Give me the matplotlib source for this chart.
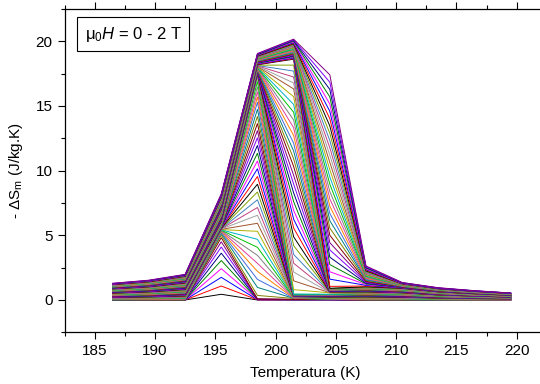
import matplotlib
matplotlib.use("Agg")
import matplotlib.pyplot as plt
from matplotlib.ticker import MultipleLocator

plt.rcParams['font.family'] = ['Liberation Sans', 'DejaVu Sans']
plt.rcParams['mathtext.fontset'] = 'custom'
plt.rcParams['mathtext.rm'] = 'Liberation Sans'
plt.rcParams['mathtext.it'] = 'Liberation Sans:italic'

# Temperatures (K) of the -dS points
temps = [186.5, 189.5, 192.5, 195.5, 198.5, 201.5, 204.5, 207.5, 210.5, 213.5, 216.5, 219.5]

Z10 = [0.00, 0.00, 0.00, 0.00, 0.00, 0.00, 0.00, 0.00, 0.00, 0.00]

# -dS (J/kg.K) at each temperature, one value per field curve (0 -> 2 T)
ds_186 = Z10 + [
    0.01, 0.03, 0.04, 0.06, 0.07, 0.09, 0.10, 0.11, 0.13, 0.14,
    0.16, 0.17, 0.19, 0.20, 0.22, 0.23, 0.24, 0.26, 0.27, 0.29,
    0.30, 0.32, 0.33, 0.34, 0.36, 0.37, 0.39, 0.40, 0.42, 0.43,
    0.44, 0.46, 0.47, 0.49, 0.50, 0.52, 0.53, 0.54, 0.56, 0.57,
    0.59, 0.60, 0.62, 0.63, 0.65, 0.66, 0.67, 0.69, 0.70, 0.72,
    0.73, 0.75, 0.76, 0.77, 0.79, 0.80, 0.82, 0.83, 0.85, 0.86,
    0.87, 0.89, 0.90, 0.92, 0.93, 0.95, 0.96, 0.97, 0.99, 1.00,
    1.02, 1.03, 1.05, 1.06, 1.08, 1.09, 1.10, 1.12, 1.13, 1.15,
    1.16, 1.18, 1.19, 1.20, 1.22, 1.23, 1.25, 1.26, 1.28, 1.29]

ds_189 = Z10 + [
    0.02, 0.03, 0.05, 0.07, 0.09, 0.10, 0.12, 0.14, 0.15, 0.17,
    0.19, 0.20, 0.22, 0.24, 0.26, 0.27, 0.29, 0.31, 0.32, 0.34,
    0.36, 0.37, 0.39, 0.41, 0.43, 0.44, 0.46, 0.48, 0.49, 0.51,
    0.53, 0.54, 0.56, 0.58, 0.60, 0.61, 0.63, 0.65, 0.66, 0.68,
    0.70, 0.71, 0.73, 0.75, 0.77, 0.78, 0.80, 0.82, 0.83, 0.85,
    0.87, 0.88, 0.90, 0.92, 0.94, 0.95, 0.97, 0.99, 1.00, 1.02,
    1.04, 1.05, 1.07, 1.09, 1.11, 1.12, 1.14, 1.16, 1.17, 1.19,
    1.21, 1.22, 1.24, 1.26, 1.28, 1.29, 1.31, 1.33, 1.34, 1.36,
    1.38, 1.39, 1.41, 1.43, 1.45, 1.46, 1.48, 1.50, 1.51, 1.53]

ds_192 = Z10 + [
    0.02, 0.04, 0.07, 0.09, 0.11, 0.13, 0.15, 0.18, 0.20, 0.22,
    0.24, 0.26, 0.29, 0.31, 0.33, 0.35, 0.37, 0.40, 0.42, 0.44,
    0.46, 0.48, 0.51, 0.53, 0.55, 0.57, 0.59, 0.62, 0.64, 0.66,
    0.68, 0.70, 0.73, 0.75, 0.77, 0.79, 0.81, 0.84, 0.86, 0.88,
    0.90, 0.92, 0.95, 0.97, 0.99, 1.01, 1.03, 1.06, 1.08, 1.10,
    1.12, 1.14, 1.17, 1.19, 1.21, 1.23, 1.25, 1.28, 1.30, 1.32,
    1.34, 1.36, 1.39, 1.41, 1.43, 1.45, 1.47, 1.50, 1.52, 1.54,
    1.56, 1.58, 1.61, 1.63, 1.65, 1.67, 1.69, 1.72, 1.74, 1.76,
    1.78, 1.80, 1.83, 1.85, 1.87, 1.89, 1.91, 1.94, 1.96, 1.98]

ds_195 = [
    0.44, 1.08, 1.75, 2.42, 3.05, 3.62, 4.10, 4.50, 4.82,
    5.02, 5.15, 5.24, 5.30, 5.34, 5.37, 5.40, 5.42, 5.44, 5.46,
    5.48, 5.50, 5.51, 5.53, 5.54, 5.56, 5.57, 5.59, 5.60, 5.62,
    5.63, 5.65, 5.66, 5.68, 5.69, 5.71, 5.72, 5.74, 5.75, 5.77, 5.78,
    5.85, 5.89, 5.93, 5.97, 6.01, 6.05, 6.09, 6.13, 6.17, 6.21,
    6.25, 6.29, 6.33, 6.37, 6.41, 6.45, 6.49, 6.53, 6.57, 6.61,
    6.65, 6.69, 6.73, 6.77, 6.81, 6.85, 6.89, 6.93, 6.97, 7.01,
    7.05, 7.09, 7.13, 7.17, 7.21, 7.25, 7.29, 7.33, 7.37, 7.41,
    7.45, 7.49, 7.53, 7.57, 7.61, 7.65, 7.69, 7.73, 7.77, 7.81,
    7.85, 7.89, 7.93, 7.97, 8.01, 8.05, 8.09, 8.13, 8.17, 8.21]

ds_198 = [
    0.00, 0.01, 0.02, 0.03, 0.04, 0.05, 0.06, 0.07, 0.08,
    0.35, 0.97, 1.59, 2.21, 2.83, 3.45, 4.07, 4.69, 5.31, 5.93,
    6.55, 7.15, 7.75, 8.35, 8.95, 9.55, 10.15, 10.75, 11.35, 11.95,
    12.55, 13.10, 13.65, 14.20, 14.75, 15.30, 15.70, 16.10, 16.50, 16.90, 17.30,
    17.35, 17.38, 17.41, 17.44, 17.47, 17.50, 17.52, 17.55, 17.58, 17.61,
    17.64, 17.67, 17.70, 17.73, 17.76, 17.79, 17.81, 17.84, 17.87, 17.90,
    17.93, 17.96, 17.99, 18.02, 18.05, 18.08, 18.10, 18.13, 18.16, 18.19,
    18.22, 18.25, 18.28, 18.31, 18.34, 18.37, 18.39, 18.42, 18.45, 18.48,
    18.51, 18.54, 18.57, 18.60, 18.63, 18.66, 18.68, 18.71, 18.74, 18.77,
    18.80, 18.83, 18.86, 18.89, 18.92, 18.95, 18.97, 19.00, 19.03, 19.06]

ds_201 = [
    0.00, 0.01, 0.01, 0.02, 0.02, 0.03, 0.03, 0.04, 0.05,
    0.12, 0.13, 0.14, 0.15, 0.16, 0.18, 0.19, 0.20, 0.21, 0.22,
    0.23, 0.24, 0.25, 0.26, 0.27, 0.29, 0.30, 0.31, 0.32, 0.33,
    0.34, 0.35, 0.36, 0.37, 0.38, 0.40, 0.41, 0.42, 0.43, 0.44, 0.45,
    0.80, 1.48, 2.16, 2.84, 3.52, 4.20, 4.88, 5.56, 6.24, 6.92,
    7.60, 8.28, 8.96, 9.64, 10.32, 10.92, 11.52, 12.12, 12.72, 13.32,
    13.92, 14.52, 15.12, 15.72, 16.32, 16.78, 17.24, 17.70, 18.16, 18.62,
    18.67, 18.72, 18.77, 18.82, 18.87, 18.93, 18.98, 19.03, 19.08, 19.13,
    19.19, 19.24, 19.29, 19.34, 19.39, 19.45, 19.50, 19.55, 19.60, 19.65,
    19.71, 19.76, 19.81, 19.86, 19.91, 19.97, 20.02, 20.07, 20.12, 20.17]

ds_204 = [
    0.00, 0.01, 0.01, 0.02, 0.02, 0.03, 0.03, 0.04, 0.04,
    0.05, 0.06, 0.08, 0.09, 0.10, 0.12, 0.13, 0.14, 0.15, 0.17,
    0.18, 0.19, 0.21, 0.22, 0.23, 0.25, 0.26, 0.27, 0.28, 0.30,
    0.31, 0.32, 0.34, 0.35, 0.36, 0.38, 0.39, 0.40, 0.41, 0.43, 0.44,
    0.55, 0.56, 0.57, 0.59, 0.60, 0.61, 0.62, 0.63, 0.65, 0.66,
    0.67, 0.68, 0.69, 0.71, 0.72, 0.73, 0.74, 0.75, 0.77, 0.78,
    0.79, 0.80, 0.81, 0.83, 0.84, 0.85, 0.86, 0.87, 0.89, 0.90,
    1.05, 1.61, 2.18, 2.74, 3.31, 3.87, 4.43, 5.00, 5.56, 6.13,
    6.69, 7.25, 7.82, 8.38, 8.95, 9.51, 10.07, 10.64, 11.20, 11.77,
    12.33, 12.89, 13.46, 14.02, 14.59, 15.15, 15.71, 16.28, 16.84, 17.41]

ds_207 = Z10 + [
    0.02, 0.03, 0.05, 0.07, 0.09, 0.10, 0.12, 0.14, 0.15, 0.17,
    0.19, 0.20, 0.22, 0.24, 0.26, 0.27, 0.29, 0.31, 0.32, 0.34,
    0.36, 0.37, 0.39, 0.41, 0.43, 0.44, 0.46, 0.48, 0.49, 0.51,
    0.53, 0.54, 0.56, 0.58, 0.60, 0.61, 0.63, 0.65, 0.66, 0.68,
    0.70, 0.71, 0.73, 0.75, 0.77, 0.78, 0.80, 0.82, 0.83, 0.85,
    0.87, 0.88, 0.90, 0.92, 0.94, 0.95, 0.97, 0.99, 1.00, 1.02,
    1.08, 1.13, 1.19, 1.24, 1.29, 1.35, 1.40, 1.45, 1.51, 1.56,
    1.61, 1.67, 1.72, 1.77, 1.83, 1.88, 1.93, 1.99, 2.04, 2.09,
    2.15, 2.20, 2.25, 2.31, 2.36, 2.41, 2.47, 2.52, 2.57, 2.63]

ds_210 = Z10 + [
    0.02, 0.03, 0.05, 0.06, 0.08, 0.09, 0.11, 0.12, 0.14, 0.15,
    0.17, 0.18, 0.20, 0.21, 0.23, 0.24, 0.26, 0.27, 0.29, 0.30,
    0.32, 0.33, 0.35, 0.36, 0.38, 0.39, 0.41, 0.42, 0.44, 0.45,
    0.47, 0.48, 0.50, 0.51, 0.53, 0.54, 0.56, 0.57, 0.59, 0.60,
    0.62, 0.63, 0.65, 0.66, 0.68, 0.69, 0.71, 0.72, 0.74, 0.75,
    0.77, 0.78, 0.80, 0.81, 0.83, 0.84, 0.86, 0.87, 0.89, 0.90,
    0.92, 0.93, 0.95, 0.96, 0.98, 0.99, 1.01, 1.02, 1.04, 1.05,
    1.07, 1.08, 1.10, 1.11, 1.13, 1.14, 1.16, 1.17, 1.19, 1.20,
    1.22, 1.23, 1.25, 1.26, 1.28, 1.29, 1.31, 1.32, 1.34, 1.35]

ds_213 = Z10 + [
    0.01, 0.02, 0.03, 0.04, 0.05, 0.06, 0.07, 0.08, 0.09, 0.11,
    0.12, 0.13, 0.14, 0.15, 0.16, 0.17, 0.18, 0.19, 0.20, 0.21,
    0.22, 0.23, 0.24, 0.25, 0.26, 0.27, 0.28, 0.29, 0.30, 0.32,
    0.33, 0.34, 0.35, 0.36, 0.37, 0.38, 0.39, 0.40, 0.41, 0.42,
    0.43, 0.44, 0.45, 0.46, 0.47, 0.48, 0.49, 0.50, 0.51, 0.53,
    0.54, 0.55, 0.56, 0.57, 0.58, 0.59, 0.60, 0.61, 0.62, 0.63,
    0.64, 0.65, 0.66, 0.67, 0.68, 0.69, 0.70, 0.71, 0.72, 0.74,
    0.75, 0.76, 0.77, 0.78, 0.79, 0.80, 0.81, 0.82, 0.83, 0.84,
    0.85, 0.86, 0.87, 0.88, 0.89, 0.90, 0.91, 0.92, 0.93, 0.95]

ds_216 = Z10 + [
    0.01, 0.02, 0.02, 0.03, 0.04, 0.05, 0.06, 0.06, 0.07, 0.08,
    0.09, 0.10, 0.10, 0.11, 0.12, 0.13, 0.14, 0.14, 0.15, 0.16,
    0.17, 0.18, 0.18, 0.19, 0.20, 0.21, 0.22, 0.22, 0.23, 0.24,
    0.25, 0.26, 0.26, 0.27, 0.28, 0.29, 0.30, 0.30, 0.31, 0.32,
    0.33, 0.34, 0.34, 0.35, 0.36, 0.37, 0.38, 0.38, 0.39, 0.40,
    0.41, 0.42, 0.42, 0.43, 0.44, 0.45, 0.46, 0.46, 0.47, 0.48,
    0.49, 0.50, 0.50, 0.51, 0.52, 0.53, 0.54, 0.54, 0.55, 0.56,
    0.57, 0.58, 0.58, 0.59, 0.60, 0.61, 0.62, 0.62, 0.63, 0.64,
    0.65, 0.66, 0.66, 0.67, 0.68, 0.69, 0.70, 0.70, 0.71, 0.72]

ds_219 = Z10 + [
    0.01, 0.01, 0.02, 0.02, 0.03, 0.04, 0.04, 0.05, 0.05, 0.06,
    0.07, 0.07, 0.08, 0.08, 0.09, 0.10, 0.10, 0.11, 0.11, 0.12,
    0.13, 0.13, 0.14, 0.14, 0.15, 0.16, 0.16, 0.17, 0.17, 0.18,
    0.19, 0.19, 0.20, 0.20, 0.21, 0.22, 0.22, 0.23, 0.23, 0.24,
    0.25, 0.25, 0.26, 0.26, 0.27, 0.28, 0.28, 0.29, 0.29, 0.30,
    0.31, 0.31, 0.32, 0.32, 0.33, 0.34, 0.34, 0.35, 0.35, 0.36,
    0.37, 0.37, 0.38, 0.38, 0.39, 0.40, 0.40, 0.41, 0.41, 0.42,
    0.43, 0.43, 0.44, 0.44, 0.45, 0.46, 0.46, 0.47, 0.47, 0.48,
    0.49, 0.49, 0.50, 0.50, 0.51, 0.52, 0.52, 0.53, 0.53, 0.54]

columns = [ds_186, ds_189, ds_192, ds_195, ds_198, ds_201,
           ds_204, ds_207, ds_210, ds_213, ds_216, ds_219]
n_curves = min(len(c) for c in columns)

# Origin-like incremental colour list
line_colors = ['#000000', '#FF0000', '#0000FF', '#FF00FF', '#008000', '#000080',
               '#8000FF', '#800080', '#800000', '#808000', '#008080', '#4169E1',
               '#FF8000', '#E0409A', '#808080', '#00C000', '#00B0C8', '#B0B000',
               '#A0522D', '#A0A0A0', '#C04080', '#4080C0', '#80A000']

fig = plt.figure(figsize=(5.40, 3.84), dpi=100)
ax = fig.add_axes([64.5 / 540, (384 - 332.3) / 384, 482.4 / 540, 323.3 / 384])

for k in range(n_curves):
    ax.plot(temps, [c[k] for c in columns], color=line_colors[k % len(line_colors)],
            lw=0.7, solid_joinstyle='miter')

ax.set_xlim(182.5, 222.5)
ax.set_ylim(-2.5, 22.5)
ax.xaxis.set_major_locator(MultipleLocator(5))
ax.xaxis.set_minor_locator(MultipleLocator(2.5))
ax.yaxis.set_major_locator(MultipleLocator(5))
ax.yaxis.set_minor_locator(MultipleLocator(2.5))
ax.tick_params(which='both', direction='out', top=True, right=False, width=0.8,
               labelsize=11)
ax.tick_params(which='major', length=5)
ax.tick_params(which='minor', length=3)
for s in ['left', 'bottom', 'top']:
    ax.spines[s].set_linewidth(0.9)
ax.spines['right'].set_visible(False)

ax.set_xlabel('Temperatura (K)', fontsize=11, labelpad=6)
ax.set_ylabel('- $\\Delta$S$_\\mathrm{m}$ (J/kg.K)', fontsize=11, labelpad=8)

ax.text(0.0415, 0.952, 'μ$_0$$H$ = 0 - 2 T', transform=ax.transAxes, fontsize=12,
        ha='left', va='top',
        bbox=dict(boxstyle='square,pad=0.45', fc='white', ec='black', lw=0.8))

fig.savefig('out.png', dpi=100)
